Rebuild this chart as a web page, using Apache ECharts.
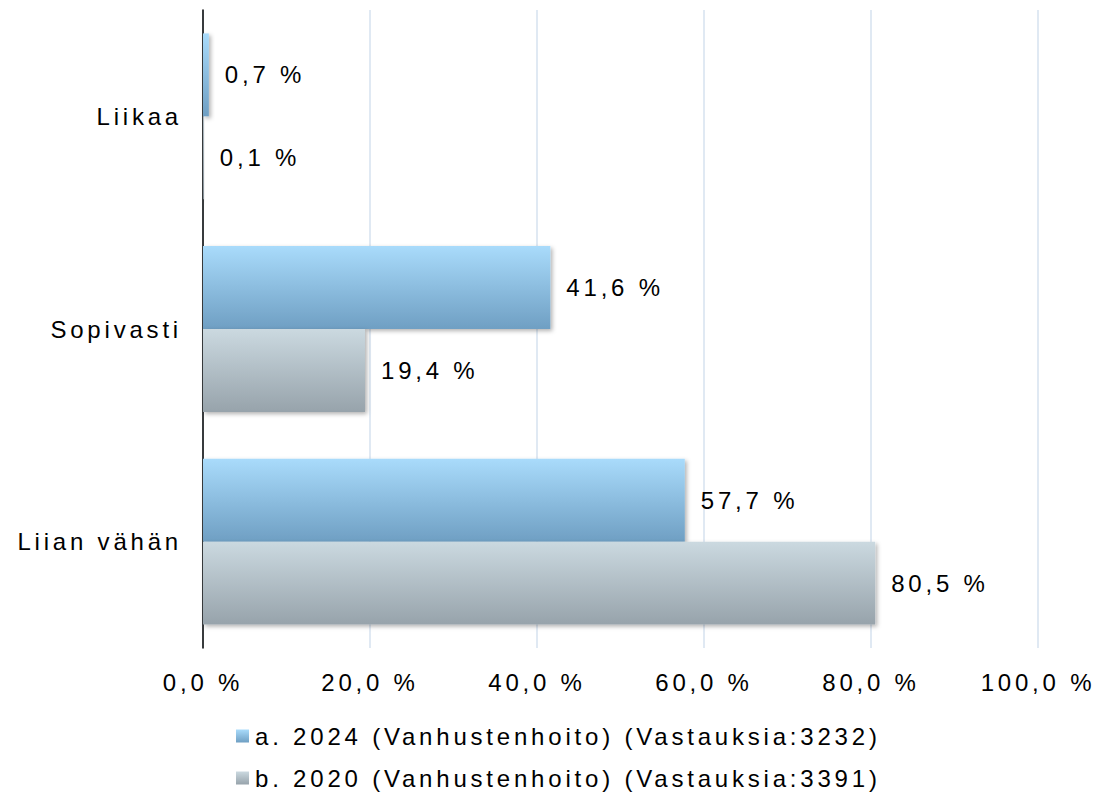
<!DOCTYPE html>
<html>
<head>
<meta charset="utf-8">
<script src="https://cdn.jsdelivr.net/npm/echarts@6/dist/echarts.min.js"></script>
<style>
  html, body { margin: 0; padding: 0; background: #fff; }
  #chart { width: 1099px; height: 794px; }
  /* the original chart uses wide tracking on all texts */
  #chart text { letter-spacing: 3.8px; }
</style>
</head>
<body>
<div id="chart"></div>
<script>
  // categories and values (percent)
  var categories = ['Liikaa', 'Sopivasti', 'Liian vähän'];
  var values2024 = [0.7, 41.6, 57.7];
  var values2020 = [0.1, 19.4, 80.5];
  var seriesNames = [
    'a. 2024 (Vanhustenhoito) (Vastauksia:3232)',
    'b. 2020 (Vanhustenhoito) (Vastauksia:3391)'
  ];

  var font = 'Liberation Sans, Arial, sans-serif';

  function pct(v) {
    return v.toFixed(1).replace('.', ',') + ' %';
  }

  var blueGrad = new echarts.graphic.LinearGradient(0, 0, 0, 1, [
    { offset: 0, color: '#a9dbfb' },
    { offset: 1, color: '#6f9fc3' }
  ]);
  var grayGrad = new echarts.graphic.LinearGradient(0, 0, 0, 1, [
    { offset: 0, color: '#cbd9e0' },
    { offset: 1, color: '#97a3ab' }
  ]);

  var myChart = echarts.init(document.getElementById('chart'), null, { renderer: 'svg' });
  var option = {
    animation: false,
    backgroundColor: '#ffffff',
    textStyle: { fontFamily: font, color: '#000' },
    grid: { left: 203, right: 61, top: 10, bottom: 146 },
    legend: {
      orient: 'vertical',
      left: 236,
      top: 724,
      width: 800,
      height: 200,
      padding: 0,
      itemWidth: 13,
      itemHeight: 13,
      itemGap: 18,
      icon: 'rect',
      textStyle: { fontSize: 24, fontFamily: font, color: '#000', padding: [0, 0, 0, 1] },
      data: seriesNames
    },
    xAxis: {
      type: 'value',
      min: 0,
      max: 100,
      interval: 20,
      axisLine: { show: false },
      axisTick: { show: false },
      splitLine: { show: true, lineStyle: { color: '#d6e2ef', width: 1.5 } },
      axisLabel: {
        fontSize: 24,
        margin: 22,
        color: '#000',
        fontFamily: font,
        formatter: function (v) { return pct(v); }
      }
    },
    yAxis: {
      type: 'category',
      inverse: true,
      data: categories,
      axisLine: { show: true, lineStyle: { color: '#000', width: 1.5 } },
      axisTick: { show: false },
      axisLabel: { fontSize: 24, margin: 21, color: '#000', fontFamily: font }
    },
    series: [
      {
        name: seriesNames[0],
        type: 'bar',
        data: values2024,
        barGap: '0%',
        barCategoryGap: '22%',
        itemStyle: {
          color: blueGrad,
          shadowBlur: 4,
          shadowOffsetX: 2,
          shadowOffsetY: 2,
          shadowColor: 'rgba(0,0,0,0.3)'
        },
        label: {
          show: true,
          position: 'right',
          distance: 16,
          fontSize: 24,
          color: '#000',
          fontFamily: font,
          formatter: function (p) { return pct(p.value); }
        }
      },
      {
        name: seriesNames[1],
        type: 'bar',
        data: values2020,
        barGap: '0%',
        barCategoryGap: '22%',
        itemStyle: {
          color: grayGrad,
          shadowBlur: 4,
          shadowOffsetX: 2,
          shadowOffsetY: 2,
          shadowColor: 'rgba(0,0,0,0.3)'
        },
        label: {
          show: true,
          position: 'right',
          distance: 16,
          fontSize: 24,
          color: '#000',
          fontFamily: font,
          formatter: function (p) { return pct(p.value); }
        }
      }
    ]
  };
  myChart.setOption(option);
</script>
</body>
</html>
